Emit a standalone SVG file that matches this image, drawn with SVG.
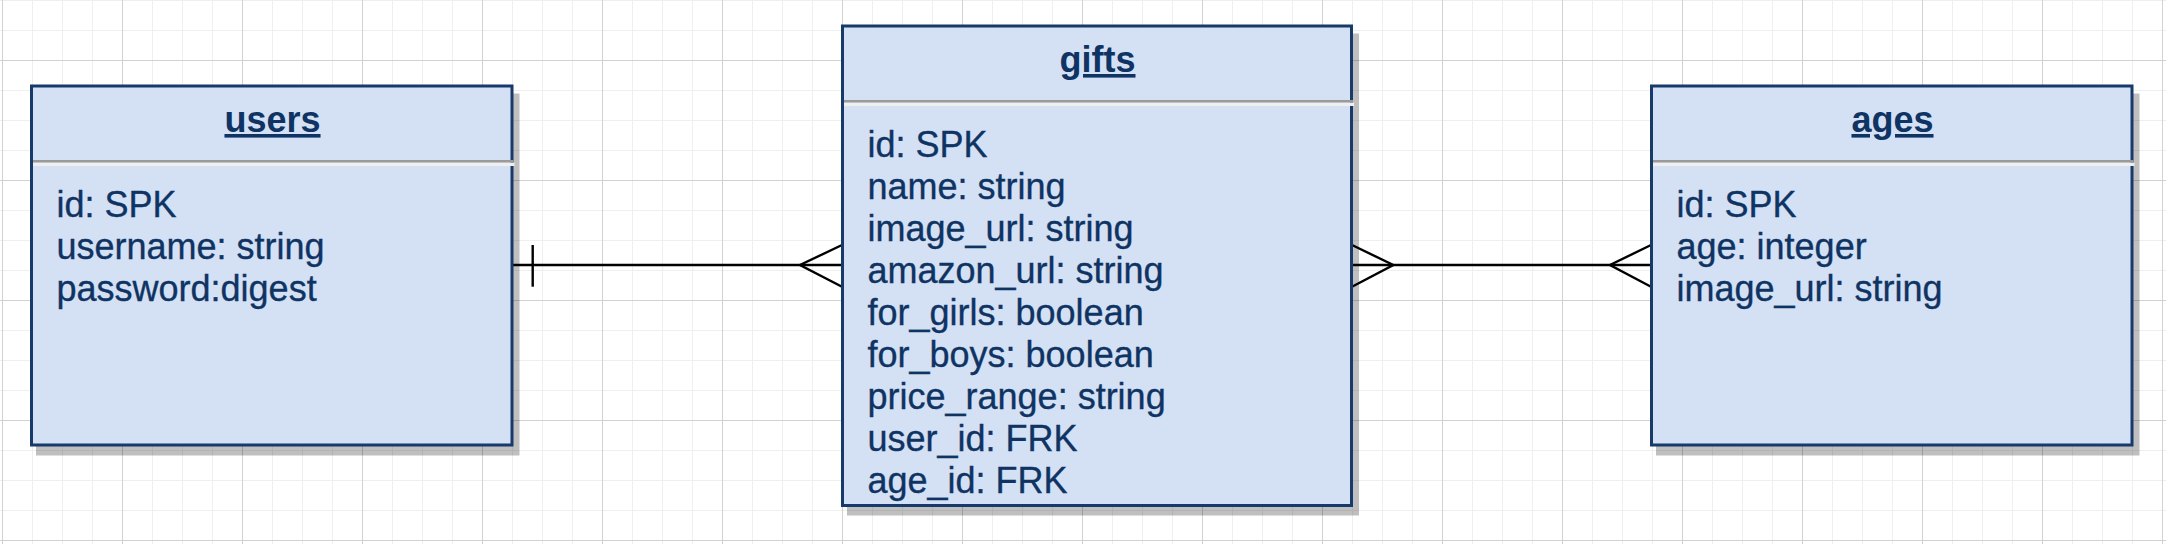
<svg xmlns="http://www.w3.org/2000/svg" width="2166" height="544" viewBox="0 0 2166 544">
  <defs>
    <pattern id="grid" patternUnits="userSpaceOnUse" x="2" y="60" width="120" height="120">
      <path d="M30.5 0V120M60.5 0V120M90.5 0V120M0 30.5H120M0 60.5H120M0 90.5H120" stroke="#efefef" stroke-width="1" fill="none"/>
      <path d="M0.5 0V120M0 0.5H120" stroke="#d2d2d2" stroke-width="1" fill="none"/>
    </pattern>
    <style>
      .shadow { fill: #000; fill-opacity: 0.25; }
      .box { fill: #d4e1f5; stroke: #173a6b; stroke-width: 3; }
      .sepdark { fill: #9a9a9a; }
      .seplight { fill: #efefef; }
      .title { font-family: "Liberation Sans", Arial, sans-serif; font-size: 36px; font-weight: bold; fill: #0f3463; text-anchor: middle; text-decoration: underline; }
      .row { font-family: "Liberation Sans", Arial, sans-serif; font-size: 36px; fill: #0f3463; stroke: #0f3463; stroke-width: 0.35; }
      .conn { fill: none; stroke: #000; stroke-width: 2.4; }
    </style>
  </defs>
  <rect x="0" y="0" width="2166" height="544" fill="#ffffff"/>
  <rect x="0" y="0" width="2166" height="544" fill="url(#grid)"/>

  <g id="connectors">
    <path class="conn" d="M513 265H842"/>
    <path class="conn" d="M532.7 245V286.7"/>
    <path class="conn" d="M842 245L800 265L842 286.7"/>
    <path class="conn" d="M1352 265H1651"/>
    <path class="conn" d="M1352 245L1393.3 265L1352 286.7"/>
    <path class="conn" d="M1651 245L1610 265L1651 286.7"/>
  </g>

  <g id="users">
    <rect class="shadow" x="36" y="93.5" width="483.5" height="362"/>
    <rect class="box" x="31.5" y="86" width="480.5" height="359"/>
    <rect class="sepdark" x="33" y="160" width="480.5" height="2.7"/>
    <rect class="seplight" x="33" y="162.7" width="481.5" height="3.3"/>
    <text class="title" x="272.5" y="132">users</text>
    <text class="row" x="56.5" y="217">id: SPK</text>
    <text class="row" x="56.5" y="259">username: string</text>
    <text class="row" x="56.5" y="301">password:digest</text>
  </g>

  <g id="gifts">
    <rect class="shadow" x="847" y="33.5" width="512" height="482"/>
    <rect class="box" x="842.5" y="26" width="509" height="479.5"/>
    <rect class="sepdark" x="844" y="100" width="509" height="2.7"/>
    <rect class="seplight" x="844" y="102.7" width="510" height="3.3"/>
    <text class="title" x="1097.5" y="72">gifts</text>
    <text class="row" x="867.5" y="157">id: SPK</text>
    <text class="row" x="867.5" y="199">name: string</text>
    <text class="row" x="867.5" y="241">image_url: string</text>
    <text class="row" x="867.5" y="283">amazon_url: string</text>
    <text class="row" x="867.5" y="325">for_girls: boolean</text>
    <text class="row" x="867.5" y="367">for_boys: boolean</text>
    <text class="row" x="867.5" y="409">price_range: string</text>
    <text class="row" x="867.5" y="451">user_id: FRK</text>
    <text class="row" x="867.5" y="493">age_id: FRK</text>
  </g>

  <g id="ages">
    <rect class="shadow" x="1656" y="93.5" width="483.5" height="362"/>
    <rect class="box" x="1651.5" y="86" width="480.5" height="359"/>
    <rect class="sepdark" x="1653" y="160" width="480.5" height="2.7"/>
    <rect class="seplight" x="1653" y="162.7" width="481.5" height="3.3"/>
    <text class="title" x="1892.5" y="132">ages</text>
    <text class="row" x="1676.5" y="217">id: SPK</text>
    <text class="row" x="1676.5" y="259">age: integer</text>
    <text class="row" x="1676.5" y="301">image_url: string</text>
  </g>
</svg>
